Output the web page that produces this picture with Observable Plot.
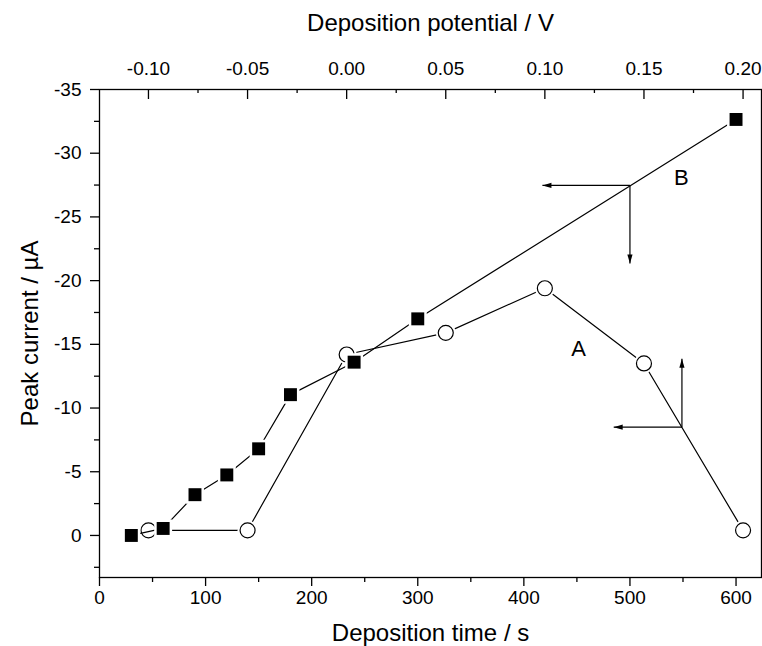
<!DOCTYPE html>
<html>
<head>
<meta charset="utf-8">
<script src="https://cdn.jsdelivr.net/npm/d3@7"></script>
<script src="https://cdn.jsdelivr.net/npm/@observablehq/plot@0.6"></script>
<style>
  html, body { margin: 0; padding: 0; background: #fff; }
</style>
</head>
<body>
<div id="chart"></div>
<script>
// Series B: peak current vs deposition time (bottom axis)
const timeB = [30, 60, 90, 120, 150, 180, 240, 300, 600];
const currentB = [0, -0.55, -3.2, -4.75, -6.8, -11.05, -13.6, -17.0, -32.65];

// Series A: peak current vs deposition potential (top axis)
const potentialA = [-0.10, -0.05, 0.00, 0.05, 0.10, 0.15, 0.20];
const currentA = [-0.4, -0.4, -14.2, -15.9, -19.4, -13.5, -0.4];

// Axis ticks
const timeTicks = [0, 100, 200, 300, 400, 500, 600];
const timeMinorTicks = [50, 150, 250, 350, 450, 550];
const potentialTicks = [-0.10, -0.05, 0.00, 0.05, 0.10, 0.15, 0.20];
const potentialMinorTicks = [-0.075, -0.025, 0.025, 0.075, 0.125, 0.175];
const currentTicks = [-35, -30, -25, -20, -15, -10, -5, 0];
const currentMinorTicks = [-32.5, -27.5, -22.5, -17.5, -12.5, -7.5, -2.5, 2.5];

// Axis domains (the two horizontal axes are aligned)
const timeDomain = [0, 624];
const potentialDomain = [-0.1247, 0.2093];
const currentDomain = [3.3, -35];

// Annotations: arrows (start -> end in data units) and series labels
const arrowStartT = [500, 500, 549, 549];
const arrowStartI = [-27.47, -27.47, -8.5, -8.5];
const arrowEndT = [417.5, 500, 484.7, 549];
const arrowEndI = [-27.47, -21.35, -8.5, -13.87];
const labelText = ["B", "A"];
const labelT = [548.5, 451.7];
const labelI = [-28.05, -14.65];

const toTime = d3.scaleLinear().domain(potentialDomain).range(timeDomain);

const seriesB = timeB.map((t, k) => ({t, i: currentB[k]}));
const seriesA = potentialA.map((v, k) => ({t: toTime(v), i: currentA[k]}));
const arrows = arrowStartT.map((t1, k) => ({
  t1, i1: arrowStartI[k], t2: arrowEndT[k], i2: arrowEndI[k]
}));
const labels = labelText.map((s, k) => ({s, t: labelT[k], i: labelI[k]}));

const arrowRotate = d => d.t2 < d.t1 ? -90 : d.t2 > d.t1 ? 90 : (d.i2 > d.i1 ? 180 : 0);

const FONT = "'Liberation Sans', Arial, Helvetica, sans-serif";

const chart = Plot.plot({
  width: 762,
  height: 646,
  marginLeft: 99,
  marginRight: 1,
  marginTop: 89,
  marginBottom: 69,
  x: {type: "linear", domain: timeDomain},
  y: {type: "linear", domain: currentDomain},
  style: {fontFamily: FONT, fontSize: "19px", color: "black", background: "white"},
  marks: [
    // left axis
    Plot.axisY(currentTicks, {anchor: "left", tickSize: 9, tickPadding: 9, tickFormat: d => String(d), label: null, fontSize: 19, strokeWidth: 1.3}),
    Plot.axisY(currentMinorTicks, {anchor: "left", tickSize: 5, text: null, label: null, strokeWidth: 1.3}),
    // bottom axis
    Plot.axisX(timeTicks, {anchor: "bottom", tickSize: 9, tickPadding: 4, tickFormat: d => String(d), label: null, fontSize: 19, strokeWidth: 1.3}),
    Plot.axisX(timeMinorTicks, {anchor: "bottom", tickSize: 5, text: null, label: null, strokeWidth: 1.3}),
    // top axis (potential), inward ticks
    Plot.axisX(potentialTicks.map(v => toTime(v)), {anchor: "top", tickSize: 0, tickPadding: 15, tickFormat: t => toTime.invert(t).toFixed(2).replace("-0.00", "0.00"), label: null, fontSize: 19}),
    Plot.tickX(potentialTicks.map(v => toTime(v)), {x: d => d, insetBottom: 478, stroke: "black", strokeWidth: 1.3}),
    Plot.tickX(potentialMinorTicks.map(v => toTime(v)), {x: d => d, insetBottom: 484, stroke: "black", strokeWidth: 1.3}),
    Plot.frame({stroke: "black", strokeWidth: 1.3}),
    // axis titles
    Plot.text(["Deposition time / s"], {frameAnchor: "bottom", lineAnchor: "middle", textAnchor: "middle", dy: 56, fontSize: 24, fill: "black"}),
    Plot.text(["Deposition potential / V"], {frameAnchor: "top", lineAnchor: "middle", textAnchor: "middle", dy: -66, fontSize: 24, fill: "black"}),
    Plot.text(["Peak current / µA"], {frameAnchor: "left", lineAnchor: "middle", textAnchor: "middle", dx: -69, rotate: -90, fontSize: 24, fill: "black"}),
    // series A
    Plot.line(seriesA, {x: "t", y: "i", stroke: "black", strokeWidth: 1.2}),
    Plot.dot(seriesA, {x: "t", y: "i", r: 10, fill: "white", stroke: "none"}),
    Plot.dot(seriesA, {x: "t", y: "i", r: 7.5, fill: "white", stroke: "black", strokeWidth: 1.2}),
    // series B
    Plot.line(seriesB, {x: "t", y: "i", stroke: "black", strokeWidth: 1.2}),
    Plot.dot(seriesB, {x: "t", y: "i", symbol: "square", r: 7.3, fill: "black", stroke: "white", strokeWidth: 5, paintOrder: "stroke"}),
    // arrows
    Plot.link(arrows, {x1: "t1", y1: "i1", x2: "t2", y2: "i2", stroke: "black", strokeWidth: 1.2}),
    Plot.vector(arrows, {x: "t2", y: "i2", rotate: arrowRotate, length: 9, r: 2.6, shape: "spike", anchor: "end", fill: "black", stroke: "none"}),
    // series labels
    Plot.text(labels, {x: "t", y: "i", text: "s", fontSize: 22, fill: "black"})
  ]
});

document.getElementById("chart").appendChild(chart);
</script>
</body>
</html>
